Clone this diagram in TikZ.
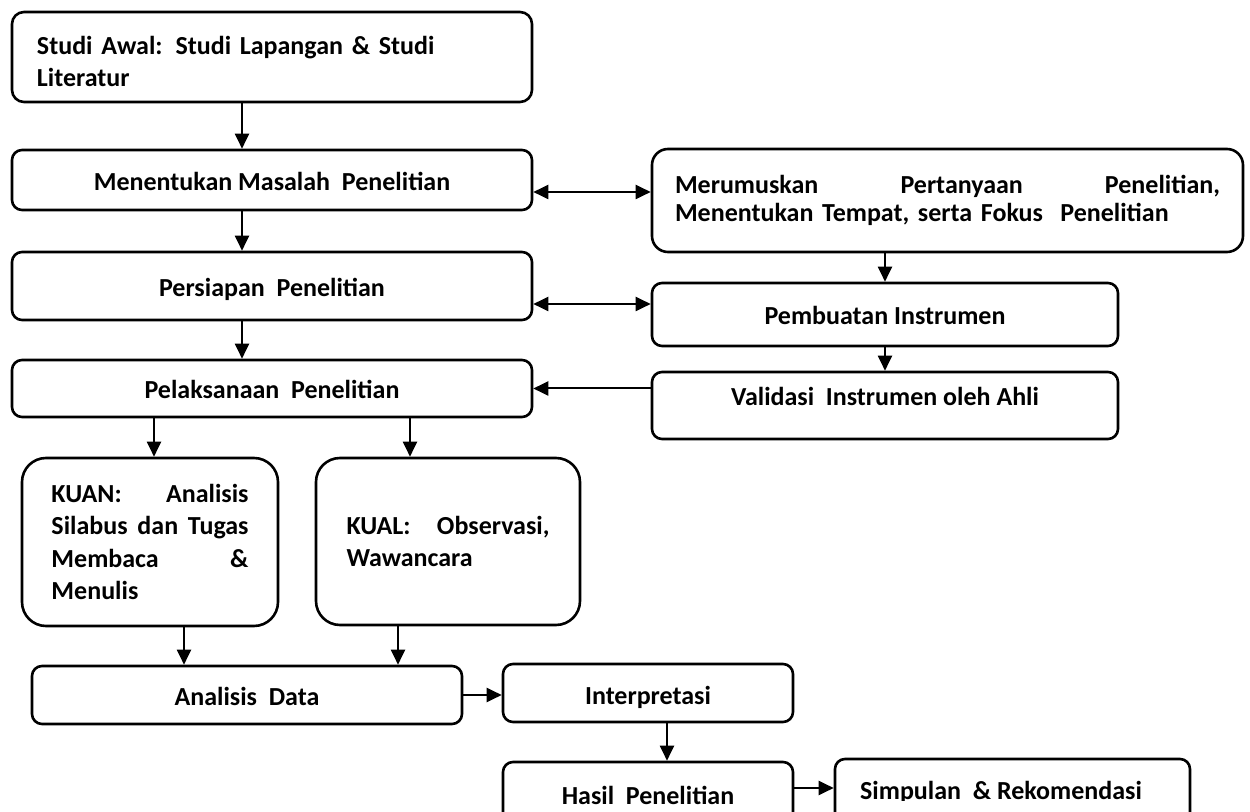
\documentclass[tikz,border=0pt]{standalone}
\usepackage{fontspec}
\setmainfont{Carlito}
\usetikzlibrary{arrows.meta}

\begin{document}
\begin{tikzpicture}[x=0.5pt, y=-0.5pt,
    txt/.style={inner sep=0pt, font=\bfseries\fontsize{13}{16.25}\selectfont},
    box/.style={txt, draw, line width=1.3pt, rounded corners=5pt, align=center},
    one/.style={box, text height=10.5pt, text depth=0pt},
    arr/.style={line width=1pt, -{Triangle[length=7.5pt,width=7pt]}},
    dbl/.style={line width=1pt, {Triangle[length=7.5pt,width=7pt]}-{Triangle[length=7.5pt,width=7pt]}}]

            \useasboundingbox (0,0) rectangle (1250,812);
            \clip (0,0) rectangle (1250,812);

            \node[box, minimum width=260pt, minimum height=45pt, rounded corners=6pt, text width=235pt, align=left, text height=13.4pt] (studi) at (272,57) {Studi Awal: Studi Lapangan \& Studi\\Literatur};
            \node[one, minimum width=260pt, minimum height=30pt] (masalah) at (272,180) {Menentukan Masalah\ \ Penelitian};
            \node[one, minimum width=260pt, minimum height=34pt] (persiapan) at (272,286) {Persiapan\ \ Penelitian};
            \node[one, minimum width=260pt, minimum height=28.5pt] (pelaksanaan) at (272,388.5) {Pelaksanaan\ \ Penelitian};

            \node[box, minimum width=295.5pt, minimum height=51.5pt, rounded corners=8pt, text width=272.5pt, align=left, font=\bfseries\fontsize{13}{14}\selectfont] (rumusan) at (947.5,200.5) {Merumuskan\hfill Pertanyaan\hfill Penelitian,\\Menentukan Tempat, serta Fokus\ \ Penelitian};
            \node[one, minimum width=233pt, minimum height=31.5pt] (instrumen) at (885,314.5) {Pembuatan Instrumen};
            \node[one, minimum width=233pt, minimum height=33.5pt] (validasi) at (885,405.5) {\raisebox{5pt}[\height][\depth]{Validasi\ \ Instrumen oleh Ahli}};

            \node[box, minimum width=128pt, minimum height=84pt, rounded corners=12pt, text width=98.5pt, align=left] (kuan) at (150,542) {KUAN:\hfill Analisis\\Silabus\hfill dan\hfill Tugas\\Membaca\hfill \&\\Menulis};
            \node[box, minimum width=132pt, minimum height=83.5pt, rounded corners=12pt, text width=101.5pt, align=left] (kual) at (448,541.5) {KUAL:\hfill Observasi,\\Wawancara};

            \node[one, minimum width=215pt, minimum height=29pt] (analisis) at (247,695) {Analisis\ \ Data};
            \node[one, minimum width=145pt, minimum height=29pt, text height=12pt] (interpretasi) at (648,693) {Interpretasi};
            \node[one, minimum width=145pt, minimum height=32pt] (hasil) at (648,794) {Hasil\ \ Penelitian};
            \node[box, minimum width=177.5pt, minimum height=33pt] (simpulan) at (1012.5,792) {};
            \begin{scope}
                \clip (835,759) rectangle (1190,801);
                \node[txt, anchor=base] (simpulan-t) at (1001,800) {Simpulan\ \ \& Rekomendasi};
            \end{scope}

            \draw[arr] ([xshift=-15pt]studi.south) -- ([xshift=-15pt]masalah.north);
            \draw[arr] ([xshift=-15pt]masalah.south) -- ([xshift=-15pt]persiapan.north);
            \draw[arr] ([xshift=-15pt]persiapan.south) -- ([xshift=-15pt]pelaksanaan.north);

            \coordinate (m1) at ([yshift=-6pt]masalah.east);
            \draw[dbl] (m1) -- (m1 -| rumusan.west);
            \coordinate (m2) at ([yshift=-9pt]persiapan.east);
            \draw[dbl] (m2) -- (m2 -| instrumen.west);
            \draw[arr] (rumusan.south -| instrumen.north) -- (instrumen.north);
            \draw[arr] (instrumen.south) -- (validasi.north);
            \draw[arr] (validasi.west |- pelaksanaan.east) -- (pelaksanaan.east);

            \coordinate (p1) at ([xshift=2pt]kuan.north);
            \draw[arr] (p1 |- pelaksanaan.south) -- (p1);
            \coordinate (p2) at ([xshift=-19pt]kual.north);
            \draw[arr] (p2 |- pelaksanaan.south) -- (p2);
            \coordinate (q1) at ([xshift=17pt]kuan.south);
            \draw[arr] (q1) -- (q1 |- analisis.north);
            \coordinate (q2) at ([xshift=-25pt]kual.south);
            \draw[arr] (q2) -- (q2 |- analisis.north);

            \draw[arr] (analisis.east) -- (analisis.east -| interpretasi.west);
            \coordinate (r1) at ([xshift=9.5pt]interpretasi.south);
            \draw[arr] (r1) -- (r1 |- hasil.north);
            \coordinate (s1) at ([yshift=3pt]hasil.east);
            \draw[arr] (s1) -- (s1 -| simpulan.west);

        \end{tikzpicture}
\end{document}
